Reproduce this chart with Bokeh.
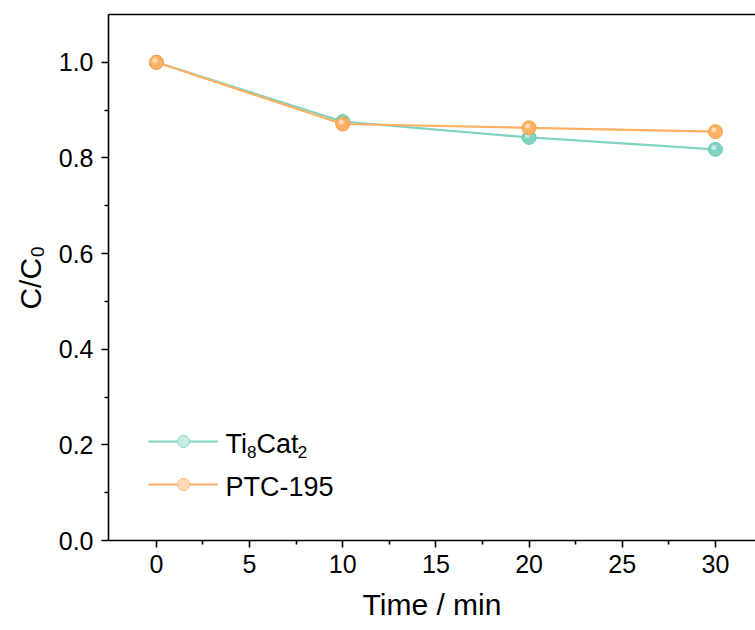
import math
from bokeh.plotting import figure
from bokeh.models import (Range1d, LinearAxis, Label, Legend, LegendItem, FixedTicker,
                          ColumnDataSource, Dodge, PrintfTickFormatter)
from bokeh.embed import file_html
from bokeh.resources import INLINE

# ---- data ----
time_min = [0, 10, 20, 30]
ti8cat2 = [1.0, 0.876, 0.843, 0.818]
ptc195 = [1.0, 0.871, 0.863, 0.855]
x_ticks = [0, 5, 10, 15, 20, 25, 30]
y_ticks = [0.0, 0.2, 0.4, 0.6, 0.8, 1.0]

FONT = "Liberation Sans"
TEAL = "#80d5c2"
TEAL_DARK = "#6cc8b4"
ORANGE = "#ffb062"
ORANGE_DARK = "#f5a04c"

p = figure(width=755, height=630, output_backend="svg", toolbar_location=None,
           x_range=Range1d(-2.57, 32.15), y_range=Range1d(0, 1.1),
           min_border_left=108, min_border_right=0, min_border_top=14,
           min_border_bottom=90)
p.outline_line_color = None
p.xgrid.visible = False
p.ygrid.visible = False
p.background_fill_color = "white"
p.border_fill_color = "white"

for ax in (p.xaxis[0], p.yaxis[0]):
    ax.axis_line_width = 1.6
    ax.axis_line_color = "black"
    ax.major_tick_line_width = 1.6
    ax.minor_tick_line_width = 1.6
    ax.major_tick_out = 7
    ax.major_tick_in = 0
    ax.minor_tick_out = 4
    ax.minor_tick_in = 0
    ax.major_label_text_font = FONT
    ax.major_label_text_font_size = "25px"
    ax.major_label_text_color = "black"
    ax.axis_label_text_font = FONT
    ax.axis_label_text_font_size = "30px"
    ax.axis_label_text_font_style = "normal"
    ax.axis_label_text_color = "black"

p.xaxis[0].major_label_standoff = 7
p.yaxis[0].major_label_standoff = 8
p.xaxis[0].axis_label = "Time / min"
p.xaxis[0].axis_label_standoff = 12
p.yaxis[0].axis_label = "C/C\u2080"
p.yaxis[0].axis_label_standoff = 9

p.xaxis[0].ticker = FixedTicker(ticks=x_ticks, minor_ticks=[2.5, 7.5, 12.5, 17.5, 22.5, 27.5])
p.yaxis[0].ticker = FixedTicker(ticks=y_ticks, minor_ticks=[0.1, 0.3, 0.5, 0.7, 0.9])
p.yaxis[0].formatter = PrintfTickFormatter(format="%.1f")

top_axis = LinearAxis(axis_line_width=1.6, major_tick_line_color=None,
                      minor_tick_line_color=None, major_label_text_font_size="0px",
                      major_label_standoff=0, ticker=FixedTicker(ticks=[]))
p.add_layout(top_axis, "above")

src_t = ColumnDataSource(dict(x=time_min, y=ti8cat2))
src_p = ColumnDataSource(dict(x=time_min, y=ptc195))

def series(src, col, dark):
    ln = p.line("x", "y", source=src, line_color=col, line_width=2.2)
    mk = p.scatter("x", "y", source=src, size=14, fill_color=col, line_color=dark,
                   line_width=1)
    hl = p.scatter(x={"field": "x", "transform": Dodge(value=-0.08)},
                   y={"field": "y", "transform": Dodge(value=0.004)},
                   source=src, size=5, fill_color="white", fill_alpha=0.55,
                   line_color=None)
    return [ln, mk, hl]

r_t = series(src_t, TEAL, TEAL_DARK)
r_p = series(src_p, ORANGE, ORANGE_DARK)

legend = Legend(items=[LegendItem(label=" ", renderers=r_t),
                       LegendItem(label=" ", renderers=r_p)],
                location=(40, 41), glyph_width=70, glyph_height=30, spacing=13,
                padding=0, margin=0, label_text_font_size="1px", label_width=0,
                label_standoff=0, border_line_color=None, background_fill_alpha=0)
p.add_layout(legend)

# ---- legend texts (screen units, relative to plot frame) ----
def lab(text, x, y, size):
    p.add_layout(Label(x=x, y=y, x_units="screen", y_units="screen", text=text,
                       text_font=FONT, text_font_size=f"{size}px",
                       text_color="black", text_align="left",
                       text_baseline="alphabetic"))

LS = 27
SS = 17
x0 = 225 - 108
b1 = 540 - 443
lab("Ti", x0, b1, LS)
x1 = x0 + 0.80 * LS
lab("8", x1, b1 - 8, SS)
x2 = x1 + 0.556 * SS
lab("Cat", x2, b1, LS)
x3 = x2 + 1.53 * LS
lab("2", x3, b1 - 8, SS)

b2 = 540 - 486
lab("PTC-195", x0, b2, LS)

open("out.html", "w").write(file_html(p, INLINE))
